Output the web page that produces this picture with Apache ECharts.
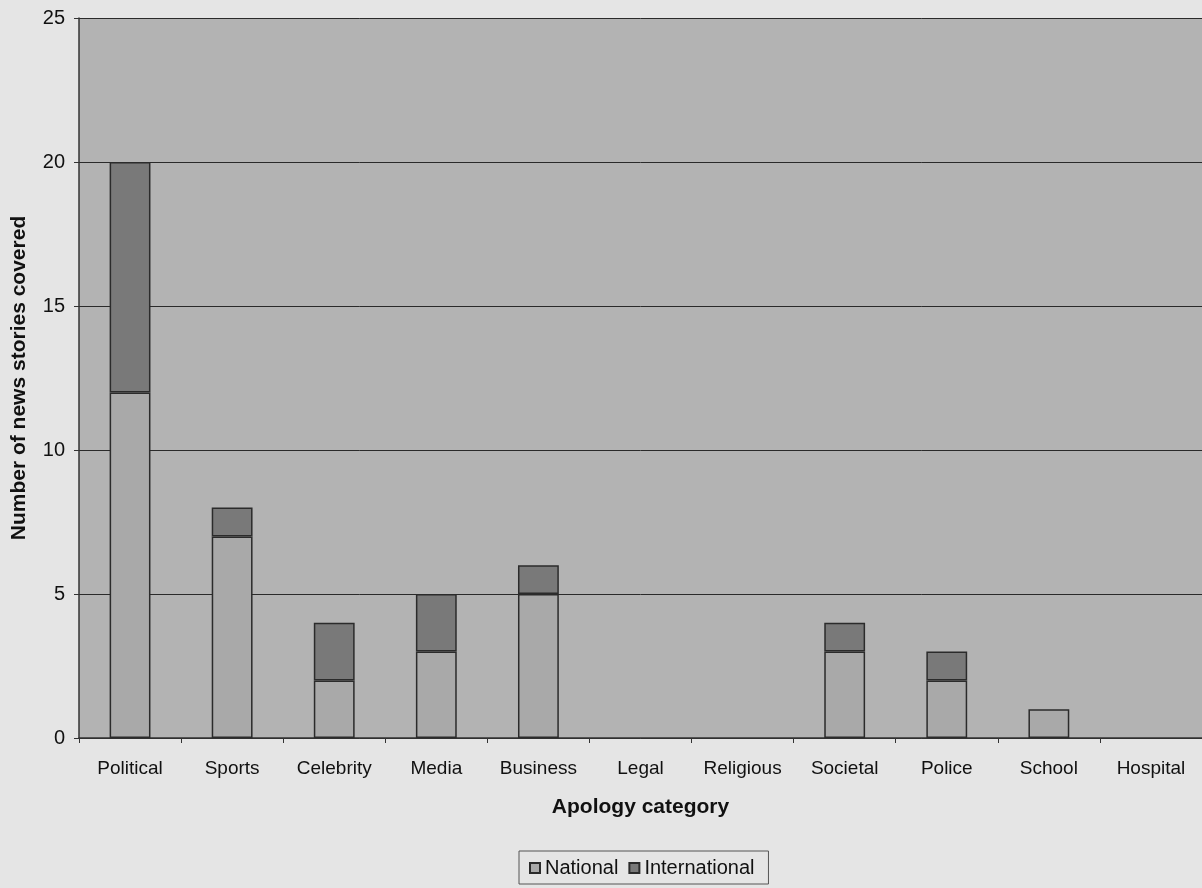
<!DOCTYPE html>
<html>
<head>
<meta charset="utf-8">
<script src="https://cdn.jsdelivr.net/npm/echarts@6/dist/echarts.min.js"></script>
<style>
  html, body { margin: 0; padding: 0; background: #e5e5e5; }
  #chart { width: 1202px; height: 888px; }
</style>
</head>
<body>
<div id="chart"></div>
<script>
// Apology news stories by category, split into national and international coverage
const categories = ['Political', 'Sports', 'Celebrity', 'Media', 'Business', 'Legal', 'Religious', 'Societal', 'Police', 'School', 'Hospital'];
const nationalValues = [12, 7, 2, 3, 5, 0, 0, 3, 2, 1, 0];
const internationalValues = [8, 1, 2, 2, 1, 0, 0, 1, 1, 0, 0];
const yTicks = [0, 5, 10, 15, 20, 25];

// empty categories get no bar at all (not a flat outline)
const asBars = arr => arr.map(v => (v === 0 ? '-' : v));

const font = 'Liberation Sans, Arial, sans-serif';
const chart = echarts.init(document.getElementById('chart'));

chart.setOption({
  backgroundColor: '#e5e5e5',
  animation: false,
  grid: {
    left: 79, right: 0, top: 18, bottom: 150,
    outerBoundsMode: 'none',
    show: true, backgroundColor: '#b3b3b3', borderWidth: 0
  },
  legend: {
    bottom: 4, left: 519,
    itemWidth: 10, itemHeight: 10, itemGap: 10,
    padding: [7, 14, 6, 10],
    borderColor: '#555', borderWidth: 1, borderRadius: 0,
    backgroundColor: '#e5e5e5',
    textStyle: { fontFamily: font, fontSize: 20, color: '#111' },
    data: [
      { name: 'National', icon: 'rect' },
      { name: 'International', icon: 'rect' }
    ]
  },
  xAxis: {
    type: 'category',
    data: categories,
    name: 'Apology category',
    nameLocation: 'middle',
    nameGap: 59,
    nameTextStyle: { fontFamily: font, fontSize: 21, fontWeight: 'bold', color: '#111' },
    axisLine: { show: true, lineStyle: { color: '#333', width: 1.5 } },
    axisTick: { show: true, alignWithLabel: false, length: 5, lineStyle: { color: '#333' } },
    axisLabel: { fontFamily: font, fontSize: 19, color: '#111', margin: 21 }
  },
  yAxis: {
    type: 'value',
    min: 0, max: 25, interval: 5,
    name: 'Number of news stories covered',
    nameLocation: 'middle',
    nameGap: 49,
    nameTextStyle: { fontFamily: font, fontSize: 21, fontWeight: 'bold', color: '#111' },
    axisLine: { show: true, lineStyle: { color: '#333', width: 1.5 } },
    axisTick: { show: true, length: 5, lineStyle: { color: '#333' } },
    axisLabel: {
      fontFamily: font, fontSize: 20, color: '#111', margin: 14,
      formatter: v => yTicks.includes(v) ? String(v) : ''
    },
    splitLine: { show: true, lineStyle: { color: '#2a2a2a', width: 1 } }
  },
  series: [
    {
      name: 'National', type: 'bar', stack: 'total',
      data: asBars(nationalValues),
      barWidth: '40%',
      itemStyle: { color: '#a9a9a9', borderColor: '#2b2b2b', borderWidth: 1.5 }
    },
    {
      name: 'International', type: 'bar', stack: 'total',
      data: asBars(internationalValues),
      barWidth: '40%',
      itemStyle: { color: '#797979', borderColor: '#2b2b2b', borderWidth: 1.5 }
    }
  ]
});
</script>
</body>
</html>
